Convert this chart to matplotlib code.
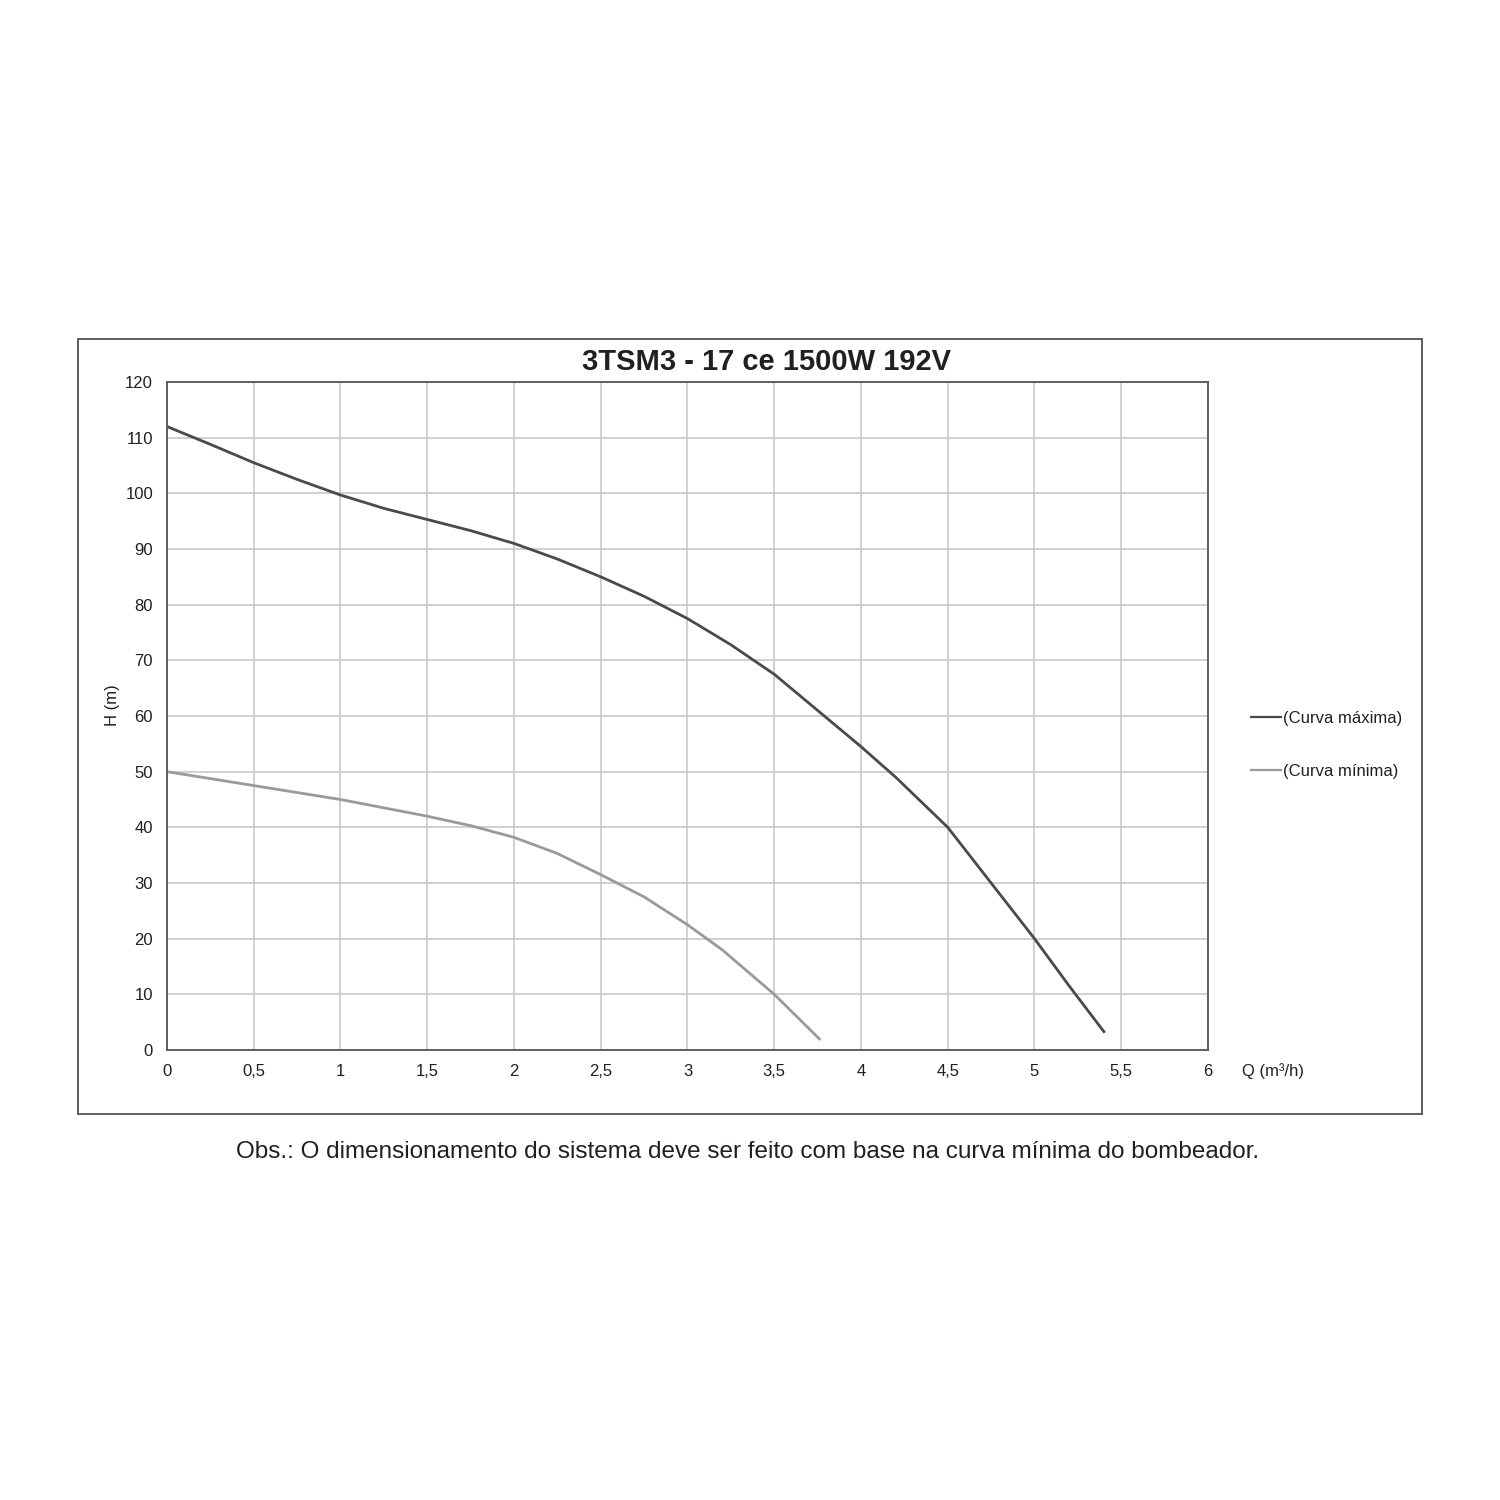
import matplotlib
matplotlib.use("Agg")
import matplotlib.pyplot as plt
from matplotlib.patches import Rectangle

plt.rcParams['font.family'] = ['Liberation Sans', 'DejaVu Sans']

# pump curve data
q_max = [0, 0.25, 0.5, 0.75, 1, 1.25, 1.5, 1.75, 2, 2.25, 2.5, 2.75, 3, 3.25,
         3.5, 3.75, 4, 4.2, 4.35, 4.5, 4.75, 5, 5.2, 5.4]
h_max = [112, 108.8, 105.5, 102.5, 99.7, 97.3, 95.3, 93.3, 91, 88.2, 85, 81.5,
         77.5, 72.8, 67.5, 61, 54.5, 49, 44.5, 40, 30, 20, 11.5, 3.3]

q_min = [0, 0.5, 1, 1.5, 1.75, 2, 2.25, 2.5, 2.75, 3, 3.2, 3.5, 3.76]
h_min = [50, 47.5, 45, 42, 40.3, 38.2, 35.3, 31.5, 27.5, 22.5, 18, 10, 2]

x_ticks = [0, 0.5, 1, 1.5, 2, 2.5, 3, 3.5, 4, 4.5, 5, 5.5, 6]
x_labels = ['0', '0,5', '1', '1,5', '2', '2,5', '3', '3,5', '4', '4,5', '5', '5,5', '6']
y_ticks = list(range(0, 121, 10))

text_col = '#231f20'

fig = plt.figure(figsize=(15, 15), dpi=100)
fig.patch.set_facecolor('white')

# outer frame around the chart
fig.patches.append(Rectangle((78 / 1500, 1 - 1114 / 1500), (1422 - 78) / 1500,
                             (1114 - 339) / 1500, transform=fig.transFigure,
                             fill=False, edgecolor='#444444', linewidth=1.2))

ax = fig.add_axes([167 / 1500, 1 - 1050 / 1500, (1208 - 167) / 1500, (1050 - 382) / 1500])
line_max, = ax.plot(q_max, h_max, color='#4a4a4a', linewidth=2)
line_min, = ax.plot(q_min, h_min, color='#9a9a9a', linewidth=2)

ax.set_xlim(0, 6)
ax.set_ylim(0, 120)
ax.set_xticks(x_ticks)
ax.set_xticklabels(x_labels)
ax.set_yticks(y_ticks)
ax.grid(True, color='#c8c8c8', linewidth=1.2)
ax.set_axisbelow(True)
ax.tick_params(length=0, labelsize=12, colors=text_col, pad=10)
for s in ax.spines.values():
    s.set_color('#555555')
    s.set_linewidth(1.3)

fig.text(767 / 1500, 1 - 362 / 1500, '3TSM3 - 17 ce 1500W 192V', ha='center', va='center',
         fontsize=21, fontweight='bold', color=text_col)
fig.text(112 / 1500, 1 - 705 / 1500, 'H (m)', rotation=90, ha='center', va='center',
         fontsize=12, color=text_col)
fig.text(1242 / 1500, 1 - 1071 / 1500, 'Q (m³/h)', ha='left', va='center',
         fontsize=12, color=text_col)

leg = fig.legend([line_max, line_min], ['(Curva máxima)', '(Curva mínima)'],
                 loc='center left', bbox_to_anchor=(1236 / 1500, 1 - 745 / 1500),
                 frameon=False, fontsize=12, handlelength=1.8, handletextpad=0.1,
                 labelspacing=2.25, labelcolor=text_col)
for h in leg.get_lines():
    h.set_linewidth(1.6)

fig.text(748 / 1500, 1 - 1152 / 1500,
         'Obs.: O dimensionamento do sistema deve ser feito com base na curva mínima do bombeador.',
         ha='center', va='center', fontsize=17.5, color=text_col)

fig.savefig('out.png', dpi=100, facecolor='white')
